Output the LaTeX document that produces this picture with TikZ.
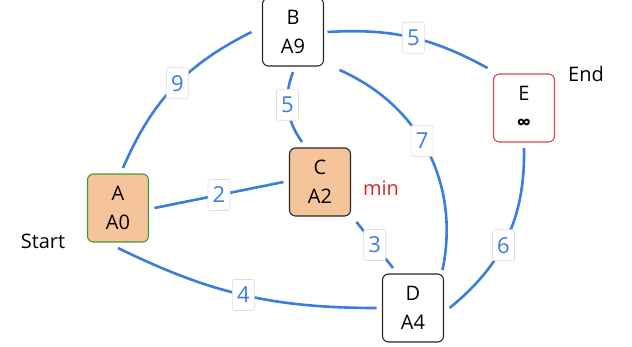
\documentclass[tikz,border=0pt]{standalone}
\usepackage{fontspec}
\setmainfont{Open Sans}
\definecolor{edgeblue}{HTML}{3B7DDD}
\definecolor{boxorange}{HTML}{F6C49A}
\definecolor{boxgreen}{HTML}{3E9A3A}
\definecolor{boxred}{HTML}{D9474C}
\definecolor{lblgray}{HTML}{DADDE2}
\definecolor{minred}{HTML}{D8262B}
\begin{document}
\begin{tikzpicture}[x=1pt,y=-1pt,
  vbox/.style={draw=black!85,line width=1.1pt,rounded corners=6pt,minimum width=61pt,minimum height=68pt,
    align=center,font=\fontsize{20}{29}\selectfont,fill=white,outer sep=6pt,inner sep=0pt},
  edge/.style={draw=edgeblue,line width=2.6pt},
  lbl/.style={fill=white,draw=lblgray,line width=0.6pt,rounded corners=2pt,text=edgeblue,
    font=\fontsize{22}{22}\selectfont,inner sep=1pt,minimum width=22pt,minimum height=31pt},
  side/.style={font=\fontsize{20}{20}\selectfont}]
\useasboundingbox (0,0) rectangle (632,346);
\node[vbox,fill=boxorange,draw=boxgreen] (A) at (118,208) {A\\A0};
\node[vbox] (B) at (293,32) {B\\A9};
\node[vbox,fill=boxorange] (C) at (320,182) {C\\A2};
\node[vbox] (D) at (413,308) {D\\A4};
\node[vbox,draw=boxred] (E) at (524,108) {E\\\textbf{∞}};
\node[side] (start) at (43,241) {Start};
\node[side] (end) at (586,74) {End};
\node[side,text=minred] (min) at (381,188) {min};

\draw[edge] ([xshift=5pt]A.north) to[bend left=20] node[lbl,pos=0.53] {9} ([xshift=-5pt]B.west);
\draw[edge] (A.east) -- node[lbl,pos=0.5] {2} (C.west);
\draw[edge] (A.south) to[bend right=13] node[lbl,pos=0.5] {4} (D.west);
\draw[edge] (B.south) to[bend right=28] node[lbl,pos=0.45] {5} ([xshift=-18pt]C.north);
\draw[edge] ([xshift=-2pt]B.east) to[bend left=16] node[lbl,pos=0.52] {5} (E.north west);
\draw[edge] ([xshift=10pt,yshift=2pt]B.south east) to[bend left=39] node[lbl,pos=0.45] {7} ([xshift=-7pt,yshift=-2pt]D.north east);
\draw[edge] (C.south east) -- node[lbl,pos=0.5] {3} ([xshift=-20pt]D.north);
\draw[edge] (E.south) to[bend left=26] node[lbl,pos=0.55] {6} (D.east);
\end{tikzpicture}
\end{document}
